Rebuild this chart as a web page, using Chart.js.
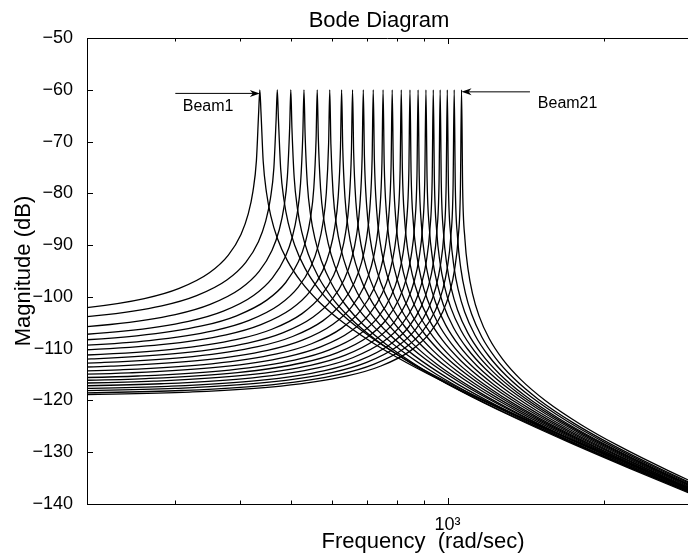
<!DOCTYPE html>
<html>
<head>
<meta charset="utf-8">
<title>Bode Diagram</title>
<script src="https://cdn.jsdelivr.net/npm/chart.js@4.4.1/dist/chart.umd.min.js"></script>
<style>
    html, body { margin: 0; padding: 0; background: #fff; }
    #wrap { width: 688px; height: 558px; }
</style>
</head>
<body>
<div id="wrap"><canvas id="bodeChart"></canvas></div>
<script>
// resonance frequency of Beam1 .. Beam21 (rad/sec)
const peakFreq = [436, 471, 500, 530, 562, 594, 626, 657, 689, 720, 752, 783, 815, 847, 878, 909, 939, 968, 999, 1030, 1064];
// low frequency level of Beam1 .. Beam21 (dB)
const lowLevel = [-104.2, -105.6, -107.3, -108.6, -109.5, -110.4, -111.2, -112.1, -112.8, -113.5, -114.2, -114.9, -115.5, -116.1, -116.6, -117.1, -117.6, -118.1, -118.5, -118.9, -119.2];
// height of every peak (dB)
const peakDb = -60;
// shape of one resonance: frequency / resonance frequency, and gain above the low frequency level (dB)
const ratio   = [0.18, 0.3, 0.45, 0.6, 0.7, 0.8, 0.87, 0.92, 0.95, 0.97, 0.985, 0.995, 1, 1.005, 1.015, 1.03, 1.05, 1.08, 1.13, 1.2, 1.3, 1.45, 1.7, 2, 2.5, 3.2, 4.2, 5.5, 7.2];
const shapeDb = [0.29, 0.82, 1.97, 3.88, 5.85, 8.87, 12.28, 16.27, 20.22, 24.57, 30.52, 40.02, null, 39.98, 30.39, 24.31, 19.79, 15.58, 11.15, 7.13, 3.22, -0.85, -5.53, -9.54, -14.40, -19.31, -24.42, -29.32, -34.12];

// axes
const xMin = 203, xMax = 2897;
const xTickValues = [300, 400, 500, 600, 700, 800, 900, 1000, 2000];
const xMajorTicks = [1000];
const xTickLabels = ['10\u00b3'];
const yTicks = [-140, -130, -120, -110, -100, -90, -80, -70, -60, -50];
const xTitle = 'Frequency  (rad/sec)';

// arrows and labels
const noteText = ['Beam1', 'Beam21'];
const noteFreq = [310, 1491];
const noteDb = [-64.1, -63.5];
const arrowFrom = [300, 1440];
const arrowTo = [peakFreq[0], peakFreq[20]];
const arrowDb = [-60.7, -60.4];

const FONT = '"Liberation Sans", Arial, Helvetica, sans-serif';
Chart.defaults.font.family = FONT;
Chart.defaults.color = '#000';

const datasets = peakFreq.map((wn, i) => ({
    label: 'Beam' + (i + 1),
    data: ratio.map((r, j) => ({
        x: wn * r,
        y: shapeDb[j] === null ? peakDb : lowLevel[i] + shapeDb[j]
    })),
    borderColor: '#000',
    borderWidth: 1.3,
    pointRadius: 0,
    cubicInterpolationMode: 'monotone',
    fill: false
}));

// top line, inward ticks, titles, beam notes
const extras = {
    id: 'extras',
    afterDraw(chart) {
        const { ctx, chartArea: a, scales: { x, y } } = chart;
        ctx.save();
        ctx.strokeStyle = '#000';
        ctx.fillStyle = '#000';
        ctx.lineWidth = 1;

        ctx.beginPath();
        ctx.moveTo(a.left, a.top + 0.5);
        ctx.lineTo(a.right, a.top + 0.5);
        ctx.stroke();

        x.ticks.forEach(t => {
            const px = Math.round(x.getPixelForValue(t.value)) + 0.5;
            const len = xMajorTicks.includes(t.value) ? 6 : 3.5;
            ctx.beginPath();
            ctx.moveTo(px, a.bottom);
            ctx.lineTo(px, a.bottom - len);
            ctx.moveTo(px, a.top);
            ctx.lineTo(px, a.top + len);
            ctx.stroke();
        });
        y.ticks.forEach(t => {
            const py = Math.round(y.getPixelForValue(t.value)) + 0.5;
            ctx.beginPath();
            ctx.moveTo(a.left, py);
            ctx.lineTo(a.left + 6, py);
            ctx.stroke();
        });

        ctx.font = '22px ' + FONT;
        ctx.textAlign = 'center';
        ctx.textBaseline = 'alphabetic';
        ctx.fillText('Bode Diagram', 379, 26.5);
        ctx.fillText(xTitle, 423, 547.5);

        // arrows
        for (let i = 0; i < arrowFrom.length; i++) {
            const x0 = x.getPixelForValue(arrowFrom[i]);
            const x1 = x.getPixelForValue(arrowTo[i]);
            const py = y.getPixelForValue(arrowDb[i]);
            const dir = x1 > x0 ? 1 : -1;
            ctx.beginPath();
            ctx.moveTo(x0, py);
            ctx.lineTo(x1 - dir * 4, py);
            ctx.stroke();
            ctx.beginPath();
            ctx.moveTo(x1, py);
            ctx.lineTo(x1 - dir * 10, py - 3.5);
            ctx.lineTo(x1 - dir * 7, py);
            ctx.lineTo(x1 - dir * 10, py + 3.5);
            ctx.closePath();
            ctx.fill();
        }

        ctx.font = '16px ' + FONT;
        ctx.textAlign = 'left';
        noteText.forEach((txt, i) => {
            ctx.fillText(txt, x.getPixelForValue(noteFreq[i]), y.getPixelForValue(noteDb[i]));
        });
        ctx.restore();
    }
};

new Chart(document.getElementById('bodeChart'), {
    type: 'line',
    data: { datasets: datasets },
    options: {
        responsive: true,
        maintainAspectRatio: false,
        animation: false,
        devicePixelRatio: 1,
        layout: { padding: { top: 38, right: 0, bottom: 0, left: 0 } },
        plugins: {
            legend: { display: false },
            tooltip: { enabled: false }
        },
        scales: {
            x: {
                type: 'logarithmic',
                min: xMin,
                max: xMax,
                afterBuildTicks: s => { s.ticks = xTickValues.map(v => ({ value: v })); },
                afterFit: s => { s.height = 54; },
                grid: { display: false },
                border: { display: true, color: '#000', width: 1 },
                ticks: {
                    autoSkip: false,
                    maxRotation: 0,
                    padding: 2,
                    font: { size: 18 },
                    callback: v => {
                        const k = xMajorTicks.indexOf(v);
                        return k >= 0 ? xTickLabels[k] : '';
                    }
                },
                title: { display: false }
            },
            y: {
                min: -140,
                max: -50,
                afterBuildTicks: s => { s.ticks = yTicks.map(v => ({ value: v })); },
                afterFit: s => { s.width = 87; },
                grid: { display: false },
                border: { display: true, color: '#000', width: 1 },
                ticks: {
                    padding: 6,
                    font: { size: 18 },
                    callback: v => (v < 0 ? '\u2212' + Math.abs(v) : String(v))
                },
                title: {
                    display: true,
                    text: 'Magnitude (dB)',
                    font: { size: 22 },
                    padding: { top: 11, bottom: 0 }
                }
            }
        }
    },
    plugins: [extras]
});
</script>
</body>
</html>
